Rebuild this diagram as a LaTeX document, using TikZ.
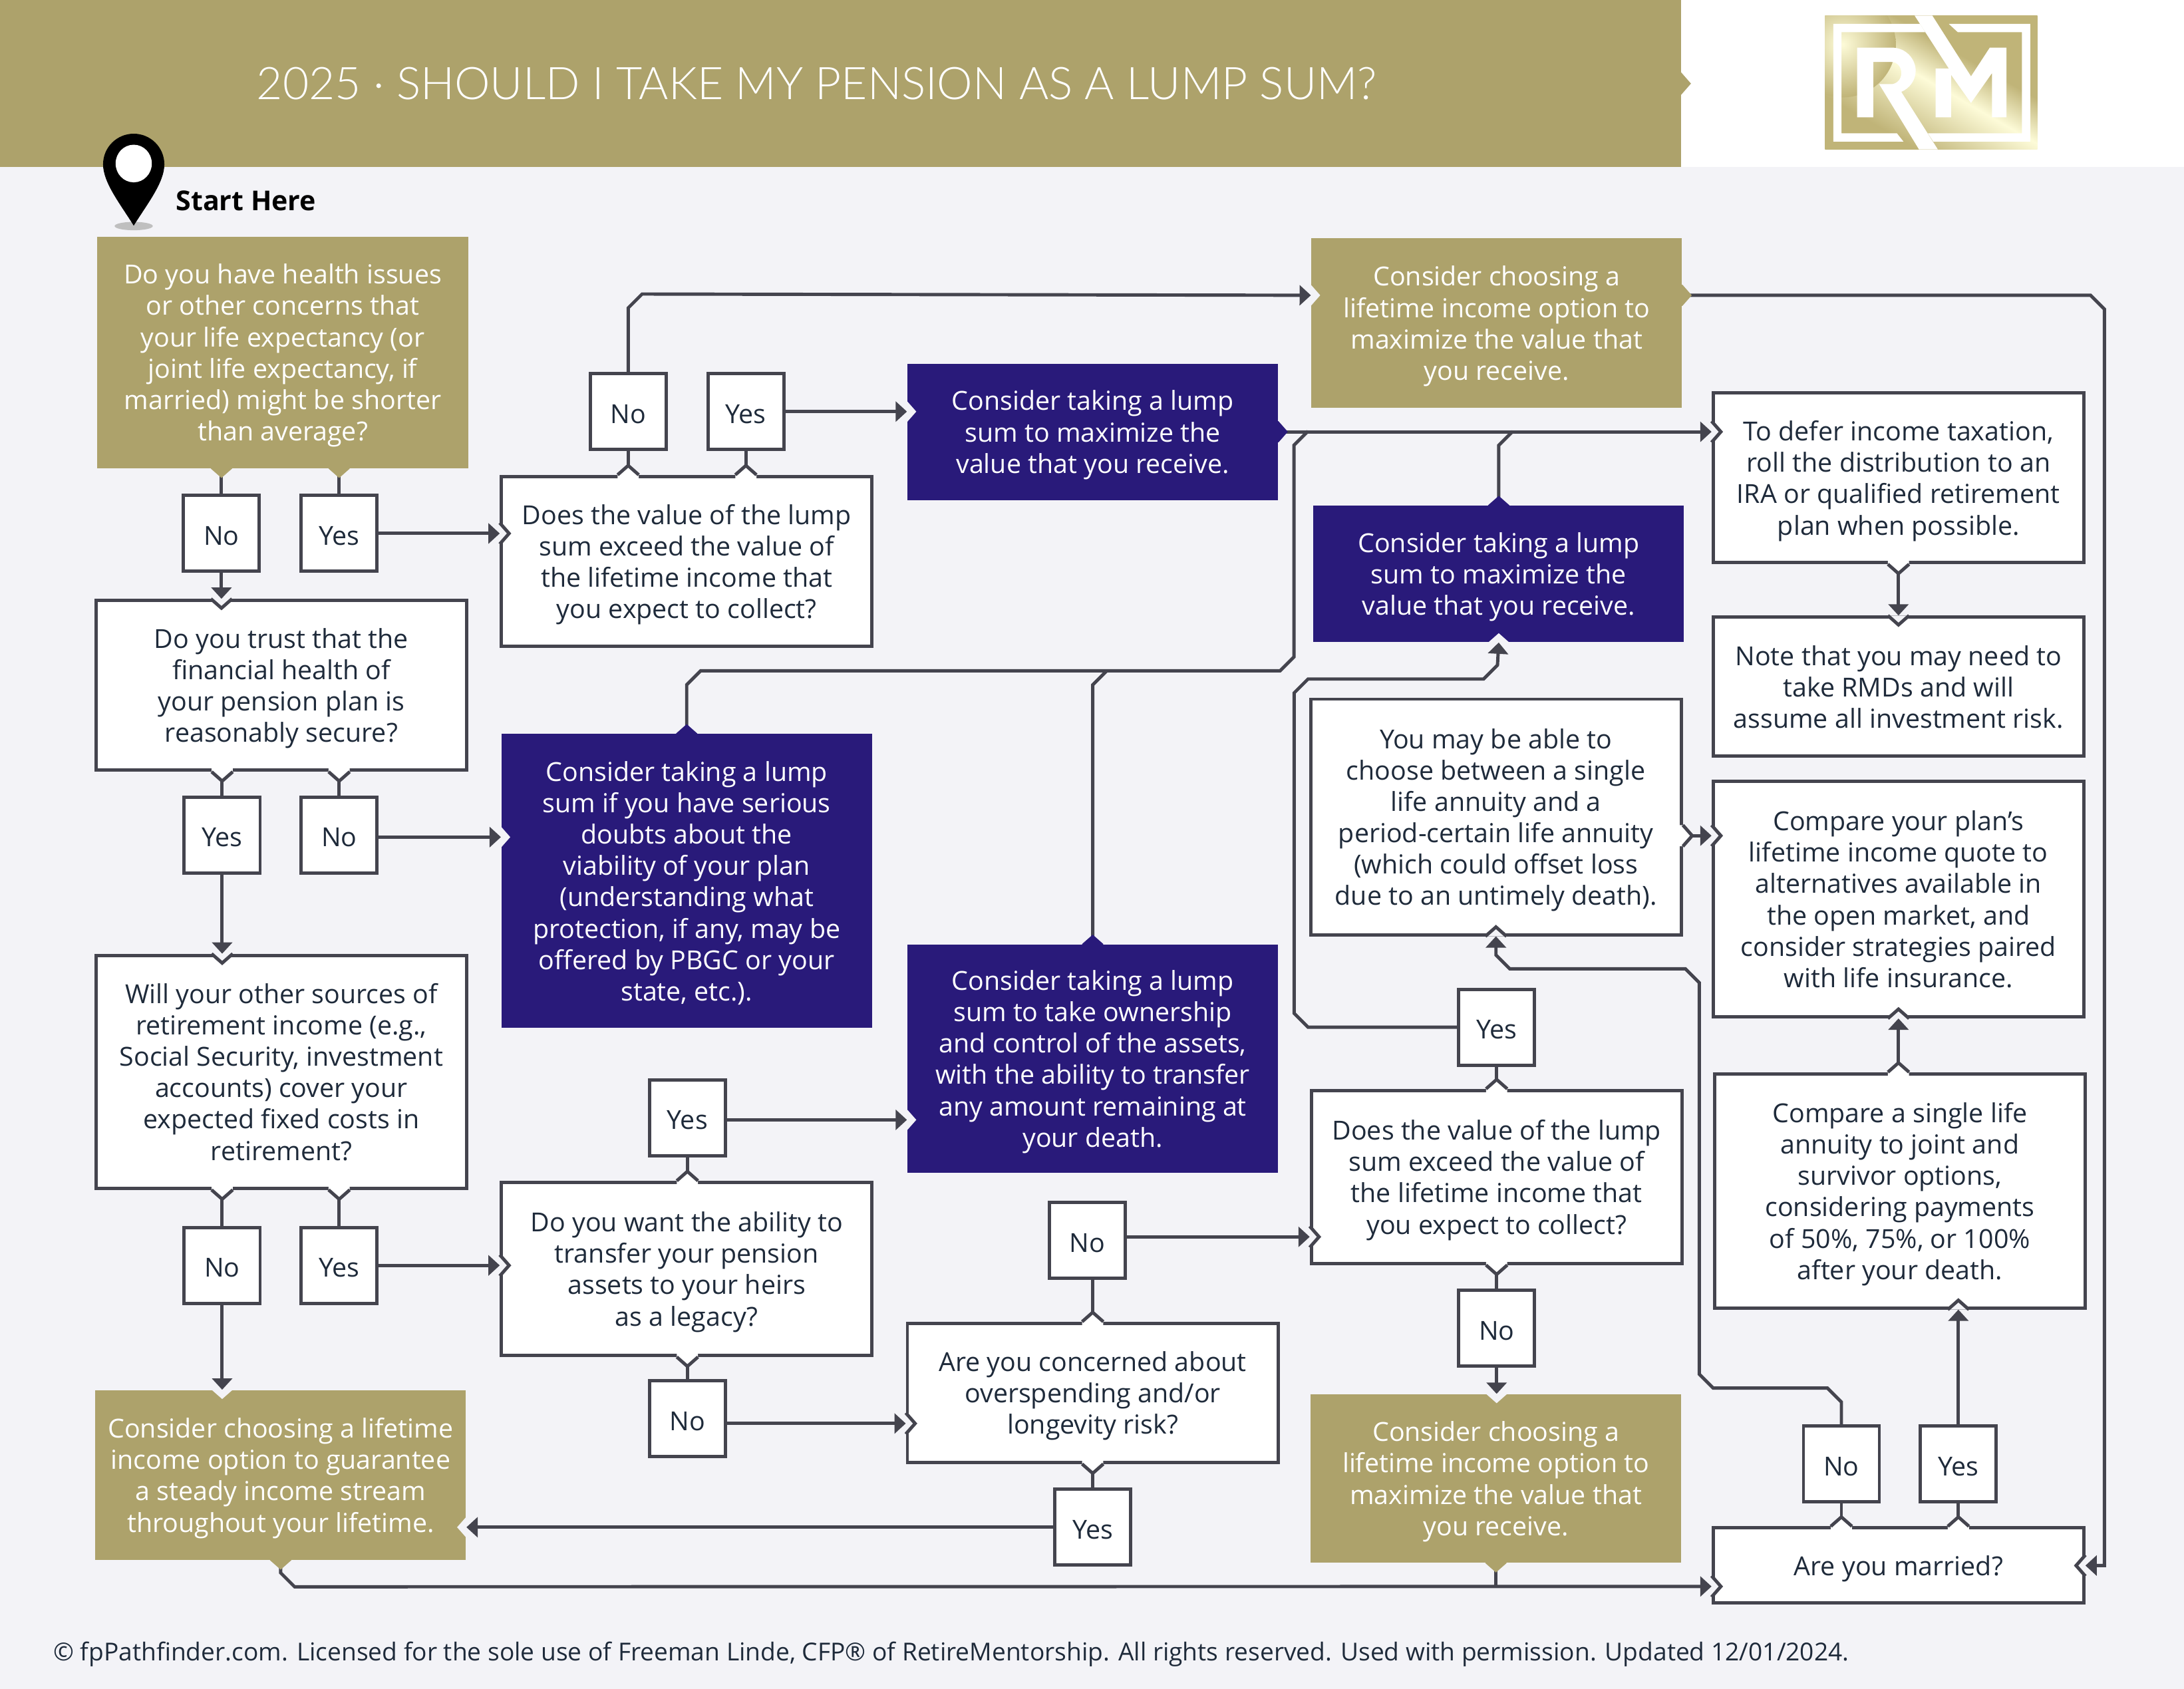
\documentclass[tikz,border=0pt]{standalone}
\usepackage{fontspec}
\setmainfont{Open Sans}
\newfontfamily\titlefont{Lato Light}
\usetikzlibrary{arrows.meta}

\definecolor{gold}{HTML}{ADA26B}
\definecolor{navy}{HTML}{291A7A}
\definecolor{wire}{HTML}{44444E}
\definecolor{paper}{HTML}{F3F3F7}
\definecolor{ink}{HTML}{1E2A3A}
\definecolor{logolo}{HTML}{C0B478}
\definecolor{logohi}{HTML}{FDFBD8}
\pgfdeclarehorizontalshading{logogold}{100bp}{color(0bp)=(logolo);color(30bp)=(logolo);color(50bp)=(logohi);color(62bp)=(logolo);color(100bp)=(logolo)}

\tikzset{
  boxtext/.style={font=\fontsize{11.2}{13.42}\selectfont,align=center,inner sep=0pt,minimum width=5.57cm,text depth=0pt},
  whitebox/.style={boxtext,draw=wire,line width=1.4pt,fill=white,text=ink},
  goldbox/.style={boxtext,fill=gold,text=white},
  navybox/.style={boxtext,fill=navy,text=white},
  ansbox/.style={whitebox,minimum width=1.14cm,minimum height=1.14cm,execute at begin node={\rule{0pt}{10pt}}},
  wireline/.style={draw=wire,line width=1.4pt},
  flow/.style={wireline,-{Triangle[length=1.7mm,width=3mm]}},
  pics/notchfill/.style={code={\fill[paper] (0,-7.6)--(6.7,0)--(0,7.6)--cycle;}},
  pics/notch/.style={code={
    \fill[paper] (0,-7.6)--(6.7,0)--(0,7.6)--cycle;
    \draw[wireline] (0,-7.6)--(6.7,0)--(0,7.6);}},
  pics/nubfill/.style={code={\fill[#1] (-2,-7.6)--(0,-7.6)--(6.7,0)--(0,7.6)--(-2,7.6)--cycle;}},
  pics/nub/.style={code={
    \fill[white] (-2.5,-7.6)--(0,-7.6)--(6.7,0)--(0,7.6)--(-2.5,7.6)--cycle;
    \draw[wireline] (0,-7.6)--(6.7,0)--(0,7.6);}},
}

\begin{document}
\begin{tikzpicture}[x=.020938cm,y=-.020938cm]
  \useasboundingbox (0,0) rectangle (1568,1212.6);
  \fill[paper] (0,0) rectangle (1568,1212.6);
  \fill[white] (1207,0) rectangle (1568,120);
  \fill[gold] (0,0) rectangle (1207,120);
  \fill[gold] (1207,52)--(1214,60)--(1207,68)--cycle;
  \node[anchor=west,inner sep=0pt,text=white,font=\titlefont\fontsize{19.25}{24}\selectfont] (title) at (184,60)
    {2025 · SHOULD I TAKE MY PENSION AS A LUMP SUM?};

  % logo
  \begin{scope}[shift={(1303.85,4.78)},x=.003333cm,y=-.003333cm]
    \shade[shading=logogold,shading angle=60] (40,40) rectangle (1000,645);
    \begin{scope}
      \clip (40,40) rectangle (1000,645);
      \shade[inner color=logohi,outer color=logolo] (120,170) circle[radius=240];
    \end{scope}
    \fill[white] (470,78)--(78,78)--(78,610)--(395,610)--(365,572)--(115,572)--(115,115)--(493,115)--cycle;
    \fill[white] (600,78)--(968,78)--(968,610)--(530,610)--(505,572)--(930,572)--(930,115)--(640,115)--cycle;
    \fill[white] (185,185)--(340,185) .. controls (410,185) and (450,240) .. (450,290)
      .. controls (450,335) and (420,370) .. (385,385)--(550,645)--(465,645)--(285,350)--(345,350)
      .. controls (370,345) and (385,325) .. (385,300) .. controls (385,275) and (370,250) .. (340,250)
      --(258,250)--(258,500)--(185,500)--cycle;
    \fill[white] (445,40)--(600,280)--(540,280)--(540,500)--(610,500)--(610,308)--(700,435)--(795,300)
      --(795,500)--(860,500)--(860,185)--(785,185)--(700,315)--(525,40)--cycle;
  \end{scope}

  % start marker
  \fill[black!25] (96,162.3) circle[x radius=13.7,y radius=3];
  \fill[black] (74,118) arc (180:360:22) .. controls (118,131) and (106,146) .. (96,162)
    .. controls (86,146) and (74,131) .. (74,118)--cycle;
  \fill[white] (96,117.4) circle[x radius=13,y radius=13.5];
  \node[anchor=west,inner sep=0pt,text=black,font=\bfseries\fontsize{11.7}{13}\selectfont] (start) at (126,144) {Start Here};

  % first column
  \node[goldbox,minimum height=3.48cm] (health) at (203,253) {Do you have health issues\\or other concerns that\\your life expectancy (or\\joint life expectancy, if\\married) might be shorter\\than average?};
  \node[ansbox] (noA) at (159,383) {No};
  \node[ansbox] (yesA) at (243.5,383) {Yes};
  \node[whitebox,minimum height=2.55cm] (trust) at (202,492) {Do you trust that the\\financial health of\\your pension plan is\\reasonably secure?};
  \node[ansbox] (yesB) at (159.5,599.5) {Yes};
  \node[ansbox] (noB) at (243.5,599.5) {No};
  \node[whitebox,minimum height=3.5cm] (sources) at (202,769.5) {Will your other sources of\\retirement income (e.g.,\\Social Security, investment\\accounts) cover your\\expected fixed costs in\\retirement?};
  \node[ansbox] (noC) at (159.5,908.5) {No};
  \node[ansbox] (yesC) at (243.5,908.5) {Yes};
  \node[goldbox,minimum height=2.55cm] (steady) at (201.5,1059) {Consider choosing a lifetime\\income option to guarantee\\a steady income stream\\throughout your lifetime.};

  % second column
  \node[ansbox] (noD) at (451,295.5) {No};
  \node[ansbox] (yesD) at (535.5,295.5) {Yes};
  \node[whitebox,minimum height=2.55cm] (exceedA) at (493,403) {Does the value of the lump\\sum exceed the value of\\the lifetime income that\\you expect to collect?};
  \node[navybox,minimum height=4.42cm] (doubts) at (493,632.5) {Consider taking a lump\\sum if you have serious\\doubts about the\\viability of your plan\\(understanding what\\protection, if any, may be\\offered by PBGC or your\\state, etc.).};
  \node[ansbox] (yesE) at (493.5,802.5) {Yes};
  \node[whitebox,minimum height=2.6cm] (legacy) at (493,911) {Do you want the ability to\\transfer your pension\\assets to your heirs\\as a legacy?};
  \node[ansbox] (noE) at (493.5,1018.5) {No};

  % third column
  \node[navybox,minimum height=2.05cm] (lumpA) at (784.5,310) {Consider taking a lump\\sum to maximize the\\value that you receive.};
  \node[navybox,minimum height=3.43cm] (control) at (784.5,760) {Consider taking a lump\\sum to take ownership\\and control of the assets,\\with the ability to transfer\\any amount remaining at\\your death.};
  \node[ansbox] (noF) at (780.5,890.5) {No};
  \node[whitebox,minimum height=2.09cm] (longevity) at (784.5,1000) {Are you concerned about\\overspending and/or\\longevity risk?};
  \node[ansbox] (yesF) at (784.5,1096.5) {Yes};

  % fourth column
  \node[goldbox,minimum height=2.55cm] (optA) at (1074.5,232) {Consider choosing a\\lifetime income option to\\maximize the value that\\you receive.};
  \node[navybox,minimum height=2.05cm] (lumpB) at (1076,412) {Consider taking a lump\\sum to maximize the\\value that you receive.};
  \node[whitebox,minimum height=3.54cm] (period) at (1074,586.5) {You may be able to\\choose between a single\\life annuity and a\\period-certain life annuity\\(which could offset loss\\due to an untimely death).};
  \node[ansbox] (yesG) at (1074.5,737.5) {Yes};
  \node[whitebox,minimum height=2.6cm] (exceedB) at (1074.5,845) {Does the value of the lump\\sum exceed the value of\\the lifetime income that\\you expect to collect?};
  \node[ansbox] (noG) at (1074.5,953.5) {No};
  \node[goldbox,minimum height=2.53cm] (optB) at (1074,1061.5) {Consider choosing a\\lifetime income option to\\maximize the value that\\you receive.};

  % fifth column
  \node[whitebox,minimum height=2.55cm] (defer) at (1363,343) {To defer income taxation,\\roll the distribution to an\\IRA or qualified retirement\\plan when possible.};
  \node[whitebox,minimum height=2.09cm] (rmds) at (1363,493) {Note that you may need to\\take RMDs and will\\assume all investment risk.};
  \node[whitebox,minimum height=3.54cm] (quote) at (1363,645.5) {Compare your plan's\\lifetime income quote to\\alternatives available in\\the open market, and\\consider strategies paired\\with life insurance.};
  \node[whitebox,minimum height=3.52cm] (survivor) at (1364,855) {Compare a single life\\annuity to joint and\\survivor options,\\considering payments\\of 50\%, 75\%, or 100\%\\after your death.};
  \node[ansbox] (noH) at (1322,1051) {No};
  \node[ansbox] (yesH) at (1406,1051) {Yes};
  \node[whitebox,minimum height=1.13cm] (married) at (1363,1124) {Are you married?};

  \node[anchor=west,inner sep=0pt,text=ink,font=\fontsize{10.57}{12}\selectfont] (footer) at (38,1187.5)
    {© fpPathfinder.com. Licensed for the sole use of Freeman Linde, CFP® of RetireMentorship. All rights reserved. Used with permission. Updated 12/01/2024.};

  \coordinate (optlevel) at (0,212);
  \coordinate (buslevel) at (0,1139);
  \coordinate (quotelevel) at (0,600);
  \coordinate (noBlevel) at (0,601);
  \coordinate (yesElevel) at (0,804);
  \coordinate (noElevel) at (0,1022);
  \coordinate (noFlevel) at (0,888);

  % connectors
  \draw[wireline] (health.south -| noA.north)--(noA.north);
  \draw[wireline] (health.south -| yesA.north)--(yesA.north);
  \draw[flow] (noA.south)--(trust.north -| noA.south);
  \draw[flow] (yesA.east)--(exceedA.west |- yesA.east);
  \draw[wireline] (trust.south -| yesB.north)--(yesB.north);
  \draw[wireline] (trust.south -| noB.north)--(noB.north);
  \draw[flow] (yesB.south)--(sources.north -| yesB.south);
  \draw[flow] (noB.east |- noBlevel)--(doubts.west |- noBlevel);
  \draw[wireline] (sources.south -| noC.north)--(noC.north);
  \draw[wireline] (sources.south -| yesC.north)--(yesC.north);
  \draw[flow] (noC.south)--(steady.north -| noC.south);
  \draw[flow] (yesC.east)--(legacy.west |- yesC.east);
  \draw[wireline] (exceedA.north -| noD.south)--(noD.south);
  \draw[wireline] (exceedA.north -| yesD.south)--(yesD.south);
  \draw[flow] (noD.north)-- ++(0,-46)-- ++(10,-10)--(optA.west |- optlevel);
  \draw[flow] (yesD.east)--(lumpA.west |- yesD.east);
  \draw[flow] (lumpA.east)--(defer.west |- lumpA.east);
  \draw[wireline] (lumpB.north)-- ++(0,-43)-- ++(10,-10);
  \draw[wireline] (doubts.north)-- ++(0,-35)-- ++(10,-10)-- ++(416,0)-- ++(10,-10)-- ++(0,-152)-- ++(10,-10);
  \draw[wireline] (control.north)-- ++(0,-186)-- ++(10,-10);
  \draw[wireline] (legacy.north -| yesE.south)--(yesE.south);
  \draw[wireline] (legacy.south -| noE.north)--(noE.north);
  \draw[flow] (yesE.east |- yesElevel)--(control.west |- yesElevel);
  \draw[flow] (noE.east |- noElevel)--(longevity.west |- noElevel);
  \draw[wireline] (longevity.north)--(noF.south -| longevity.north);
  \draw[wireline] (longevity.south)--(yesF.north);
  \draw[flow] (noF.east |- noFlevel)--(exceedB.west |- noFlevel);
  \draw[flow] (yesF.west)--(steady.east |- yesF.west);
  \draw[wireline] (exceedB.north)--(yesG.south);
  \draw[wireline] (exceedB.south)--(noG.north);
  \draw[flow] (noG.south)--(optB.north -| noG.south);
  \draw[flow] (yesG.west)-- ++(-107,0)-- ++(-10,-10)-- ++(0,-230)-- ++(10,-10)-- ++(126,0)-- ++(10,-10)--(lumpB.south);
  \draw[flow] (period.east |- quotelevel)--(quote.west |- quotelevel);
  \draw[flow] (defer.south)--(rmds.north);
  \draw[flow] (survivor.north -| quote.south)--(quote.south);
  \draw[flow] (noH.north)-- ++(0,-16)-- ++(-10,-10)-- ++(-82,0)-- ++(-10,-10)-- ++(0,-281)-- ++(-10,-10)-- ++(-126,0)-- ++(-10,-10)--(period.south);
  \draw[flow] (yesH.north)--(survivor.south -| yesH.north);
  \draw[wireline] (married.north -| noH.south)--(noH.south);
  \draw[wireline] (married.north -| yesH.south)--(yesH.south);
  \draw[flow] (optA.east |- optlevel)-- ++(293,0)-- ++(10,10) |- (married.east);
  \draw[flow] (steady.south)-- ++(0,9)-- ++(10,10)--(married.west |- buslevel);
  \draw[wireline] (optB.south)--(optB.south |- buslevel);

  % tabs where lines leave a box
  \pic[rotate=-90] at (health.south -| noA.north) {nubfill=gold};
  \pic[rotate=-90] at (health.south -| yesA.north) {nubfill=gold};
  \pic[rotate=-90] at (trust.south -| yesB.north) {nub};
  \pic[rotate=-90] at (trust.south -| noB.north) {nub};
  \pic[rotate=-90] at (sources.south -| noC.north) {nub};
  \pic[rotate=-90] at (sources.south -| yesC.north) {nub};
  \pic[rotate=-90] at (steady.south) {nubfill=gold};
  \pic[rotate=90] at (exceedA.north -| noD.south) {nub};
  \pic[rotate=90] at (exceedA.north -| yesD.south) {nub};
  \pic at (lumpA.east) {nubfill=navy};
  \pic at (optA.east |- optlevel) {nubfill=gold};
  \pic[rotate=90] at (lumpB.north) {nubfill=navy};
  \pic[rotate=90] at (doubts.north) {nubfill=navy};
  \pic[rotate=90] at (control.north) {nubfill=navy};
  \pic[rotate=90] at (legacy.north -| yesE.south) {nub};
  \pic[rotate=-90] at (legacy.south -| noE.north) {nub};
  \pic[rotate=90] at (longevity.north) {nub};
  \pic[rotate=-90] at (longevity.south) {nub};
  \pic[rotate=90] at (exceedB.north) {nub};
  \pic[rotate=-90] at (exceedB.south) {nub};
  \pic at (period.east |- quotelevel) {nub};
  \pic[rotate=-90] at (defer.south) {nub};
  \pic[rotate=90] at (survivor.north -| quote.south) {nub};
  \pic[rotate=90] at (married.north -| noH.south) {nub};
  \pic[rotate=90] at (married.north -| yesH.south) {nub};
  \pic[rotate=-90] at (optB.south) {nubfill=gold};

  % notches where lines enter a box
  \pic[rotate=-90] at (trust.north -| noA.south) {notch};
  \pic at (exceedA.west |- yesA.east) {notch};
  \pic[rotate=-90] at (sources.north -| yesB.south) {notch};
  \pic at (doubts.west |- noBlevel) {notchfill};
  \pic[rotate=-90] at (steady.north -| noC.south) {notchfill};
  \pic at (legacy.west |- yesC.east) {notch};
  \pic at (optA.west |- optlevel) {notchfill};
  \pic at (lumpA.west |- yesD.east) {notchfill};
  \pic at (defer.west |- lumpA.east) {notch};
  \pic at (control.west |- yesElevel) {notchfill};
  \pic at (longevity.west |- noElevel) {notch};
  \pic at (exceedB.west |- noFlevel) {notch};
  \pic[rotate=180] at (steady.east |- yesF.west) {notchfill};
  \pic[rotate=-90] at (optB.north -| noG.south) {notchfill};
  \pic[rotate=90] at (lumpB.south) {notchfill};
  \pic at (quote.west |- quotelevel) {notch};
  \pic[rotate=-90] at (rmds.north) {notch};
  \pic[rotate=90] at (quote.south) {notch};
  \pic[rotate=90] at (period.south) {notch};
  \pic[rotate=90] at (survivor.south -| yesH.north) {notch};
  \pic[rotate=180] at (married.east) {notch};
  \pic at (married.west |- buslevel) {notch};
\end{tikzpicture}
\end{document}
